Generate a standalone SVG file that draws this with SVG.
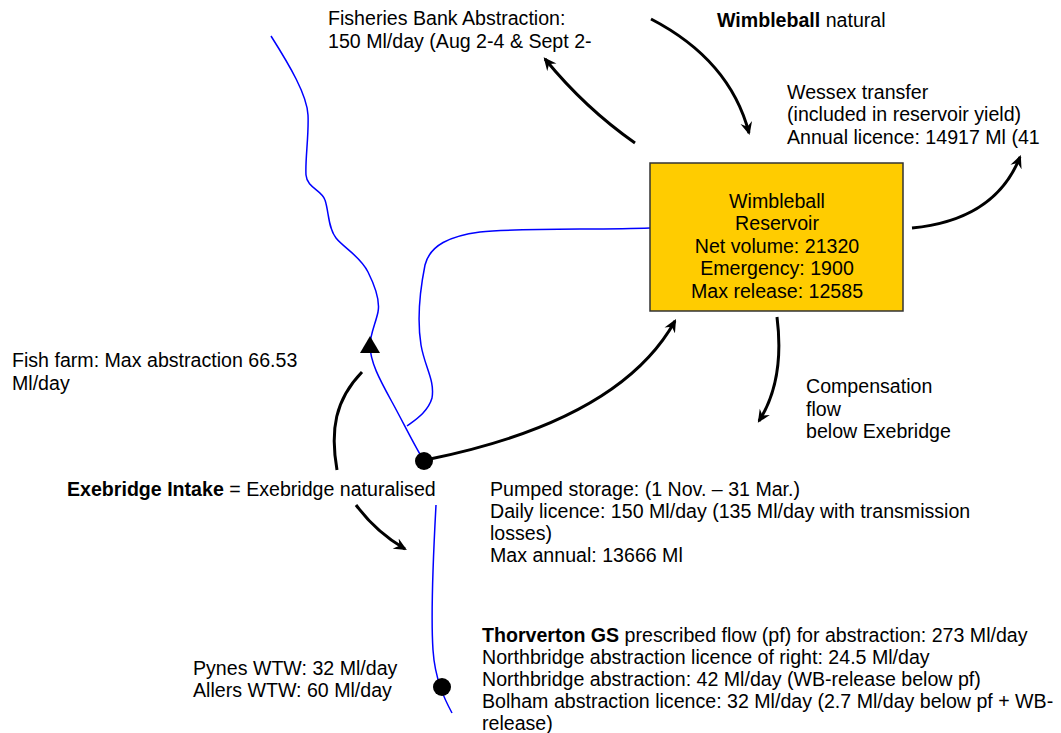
<svg xmlns="http://www.w3.org/2000/svg" width="1061" height="733" viewBox="0 0 1061 733">
  <style>
    text { font-family: "Liberation Sans", Arial, Helvetica, sans-serif; font-size: 19.6px; fill: #000; }
    .b { font-weight: bold; }
    .mid { text-anchor: middle; }
    .river { fill: none; stroke: #0000FF; stroke-width: 1.5; }
    .flow { fill: none; stroke: #000; stroke-width: 3; marker-end: url(#head); }
    .plain { fill: none; stroke: #000; stroke-width: 3; }
  </style>
  <defs>
    <marker id="head" viewBox="0 0 12 12" refX="10" refY="6" markerWidth="13" markerHeight="13" markerUnits="userSpaceOnUse" orient="auto">
      <path d="M0,0.5 L12,6 L0,11.5 L4,6 z" fill="#000"/>
    </marker>
  </defs>

  <rect width="1061" height="733" fill="#fff"/>

  <!-- rivers -->
  <g id="rivers">
    <path class="river" d="M271,36 C290,66 307,95 308,115 C309,135 305,160 306,175 C307,188 322,190 325,200 C329,212 328,228 336,238 C344,248 360,256 368,272 C376,288 380,302 378,312 C376,322 370,335 370,345 C370,362 380,380 392,402 C402,420 414,445 424,461"/>
    <path class="river" d="M650,228 C600,230 520,228 480,232 C450,236 430,245 425,265 C420,290 417,320 421,345 C425,368 435,380 432,398 C428,412 415,420 407,426"/>
    <path class="river" d="M436,505 C433,560 431,620 433,650 C435,680 445,700 452,713"/>
  </g>

  <!-- connectors -->
  <g id="connectors">
    <path class="flow" d="M635,143 Q585,108 545,59"/>
    <path class="flow" d="M651,19 Q730,60 749,133"/>
    <path class="flow" d="M912,228 Q995,220 1020,157"/>
    <path class="flow" d="M430,459 Q620,420 675,321"/>
    <path class="flow" d="M777,317 Q785,380 759,421"/>
    <path class="plain" d="M337,470 C330,430 335,400 362,372"/>
    <path class="flow" d="M356,505 Q376,532 405,549"/>
  </g>

  <!-- Wimbleball Reservoir -->
  <g id="reservoir">
    <rect x="650" y="163" width="253" height="148" fill="#FFCC00" stroke="#333" stroke-width="1.5"/>
    <text class="mid" x="777" y="208">Wimbleball</text>
    <text class="mid" x="777" y="230">Reservoir</text>
    <text class="mid" x="777" y="253">Net volume: 21320</text>
    <text class="mid" x="777" y="275">Emergency: 1900</text>
    <text class="mid" x="777" y="298">Max release: 12585</text>
  </g>

  <g id="exebridge-intake">
    <circle cx="424" cy="461" r="9" fill="#000"/>
    <text x="67" y="496"><tspan class="b">Exebridge Intake</tspan> = Exebridge naturalised</text>
  </g>

  <g id="thorverton-gs">
    <circle cx="442" cy="687" r="9" fill="#000"/>
  </g>

  <g id="fish-farm">
    <path d="M370,336 L380,353 L360,353 z" fill="#000"/>
    <text x="12" y="367">Fish farm: Max abstraction 66.53</text>
    <text x="12" y="390">Ml/day</text>
  </g>

  <g id="fisheries-bank">
    <text x="328" y="25">Fisheries Bank Abstraction:</text>
    <text x="328" y="48">150 Ml/day (Aug 2-4 &amp; Sept 2-</text>
  </g>

  <g id="wimbleball-natural">
    <text x="717" y="27"><tspan class="b">Wimbleball</tspan> natural</text>
  </g>

  <g id="wessex-transfer">
    <text x="787" y="99">Wessex transfer</text>
    <text x="787" y="121">(included in reservoir yield)</text>
    <text x="787" y="144">Annual licence: 14917 Ml (41</text>
  </g>

  <g id="compensation">
    <text x="806" y="393">Compensation</text>
    <text x="806" y="416">flow</text>
    <text x="806" y="438">below Exebridge</text>
  </g>

  <g id="pumped-storage">
    <text x="490" y="496">Pumped storage: (1 Nov. – 31 Mar.)</text>
    <text x="490" y="518">Daily licence: 150 Ml/day (135 Ml/day with transmission</text>
    <text x="490" y="540">losses)</text>
    <text x="490" y="562">Max annual: 13666 Ml</text>
  </g>

  <g id="abstractions">
    <text x="482" y="642"><tspan class="b">Thorverton GS</tspan> prescribed flow (pf) for abstraction: 273 Ml/day</text>
    <text x="482" y="664">Northbridge abstraction licence of right: 24.5 Ml/day</text>
    <text x="482" y="686">Northbridge abstraction: 42 Ml/day (WB-release below pf)</text>
    <text x="482" y="708">Bolham abstraction licence: 32 Ml/day (2.7 Ml/day below pf + WB-</text>
    <text x="482" y="730">release)</text>
  </g>

  <g id="treatment-works">
    <text x="193" y="675">Pynes WTW: 32 Ml/day</text>
    <text x="193" y="697">Allers WTW: 60 Ml/day</text>
  </g>
</svg>
